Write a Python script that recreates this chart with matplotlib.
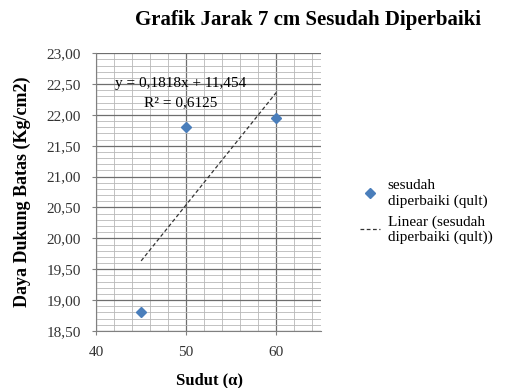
import matplotlib.pyplot as plt
import numpy as np
from matplotlib.ticker import MultipleLocator, FuncFormatter

plt.rcParams["font.family"] = ["Liberation Serif", "DejaVu Serif"]

# sudut (derajat) dan daya dukung batas (Kg/cm2)
sudut = [45, 50, 60]
qult = [18.80, 21.80, 21.95]

# persamaan trendline linear yang tercantum di grafik
SLOPE = 0.1818
INTERCEPT = 11.454
R2 = 0.6125

TITLE = "Grafik Jarak 7 cm Sesudah Diperbaiki"
XLABEL = "Sudut (α)"
YLABEL = "Daya Dukung Batas (Kg/cm2)"


def comma(v, _pos=None, nd=2):
    return f"{v:.{nd}f}".replace(".", ",")


fig = plt.figure(figsize=(5.14, 3.88), dpi=100)
ax = fig.add_axes([0.187, 0.147, 0.438, 0.716])

ax.set_xlim(40, 65)
ax.set_ylim(18.5, 23.0)
ax.xaxis.set_major_locator(MultipleLocator(10))
ax.xaxis.set_minor_locator(MultipleLocator(2))
ax.yaxis.set_major_locator(MultipleLocator(0.5))
ax.yaxis.set_minor_locator(MultipleLocator(0.1))
ax.yaxis.set_major_formatter(FuncFormatter(comma))
ax.xaxis.set_major_formatter(FuncFormatter(lambda v, p: f"{v:.0f}"))

ax.grid(which="major", color="#6e6e6e", lw=0.9)
ax.grid(which="minor", color="#b8b8b8", lw=0.6)
ax.set_axisbelow(True)
for side in ("top", "right"):
    ax.spines[side].set_visible(False)
for side in ("left", "bottom"):
    ax.spines[side].set_color("#808080")
ax.tick_params(which="major", length=3, color="#808080", labelsize=11, colors="#333333", pad=8)
ax.tick_params(which="minor", length=0)

ax.plot(sudut, qult, ls="none", marker="D", ms=5.5, color="#4a7ebb",
        label="sesudah\ndiperbaiki (qult)")

xt = np.array([min(sudut), max(sudut)])
ax.plot(xt, SLOPE * xt + INTERCEPT, color="#333333", lw=0.9, ls=(0, (3, 2)),
        label="Linear (sesudah\ndiperbaiki (qult))")

ax.text(49.4, 22.51, f"y = {comma(SLOPE, nd=4)}x + {comma(INTERCEPT, nd=3)}",
        ha="center", va="center", fontsize=11)
ax.text(49.4, 22.19, f"R² = {comma(R2, nd=4)}", ha="center", va="center", fontsize=11)

fig.text(210 / 514, 1 - 380 / 388, XLABEL, ha="center", va="center",
         fontsize=12, fontweight="bold")
fig.text(22 / 514, 1 - 192 / 388, YLABEL, ha="center", va="center", rotation=90,
         fontsize=13, fontweight="bold")
fig.text(0.6, 1 - 20 / 388, TITLE, ha="center", va="center", fontsize=15, fontweight="bold")

fig.legend(loc="upper left", bbox_to_anchor=(360 / 514, 1 - 179 / 388),
           frameon=False, fontsize=11, handlelength=1.3, handletextpad=0.5,
           labelspacing=0.5, borderaxespad=0, borderpad=0)

fig.savefig("out.png", dpi=100)
